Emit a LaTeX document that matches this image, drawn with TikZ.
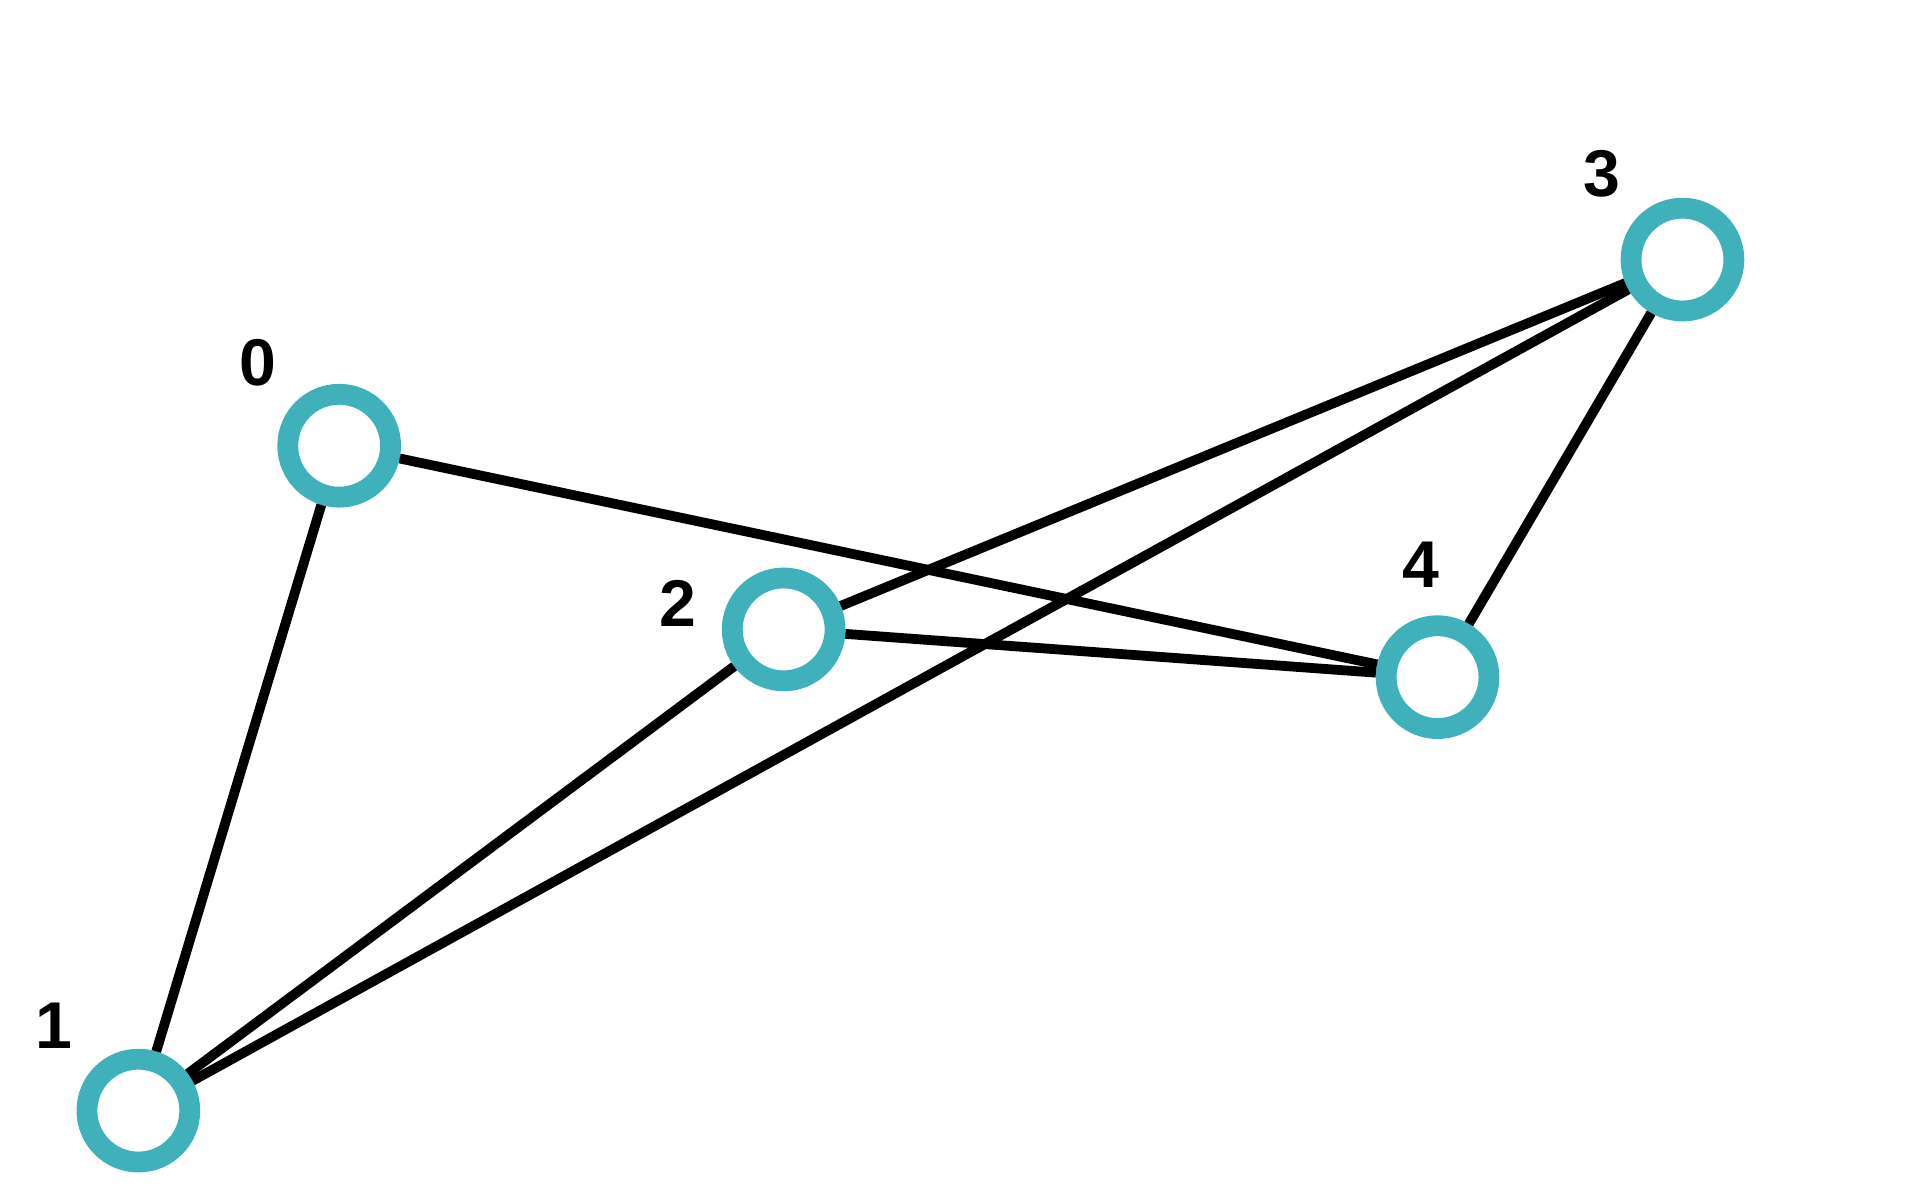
\documentclass[tikz,border=0pt]{standalone}
\usepackage{fontspec}
\setmainfont{Liberation Sans}
\begin{document}
\begin{tikzpicture}[x=1pt,y=-1pt,
  nd/.style={circle,draw={rgb,255:red,64;green,176;blue,186},line width=17pt,minimum size=84pt,inner sep=0pt,fill=white},
  ed/.style={line width=8pt,black},
  lb/.style={font=\fontsize{54}{60}\selectfont\bfseries,inner sep=0pt}]
\useasboundingbox (0,0) rectangle (1568,980);
\node[nd] (n0) at (277,364) {};
\node[nd] (n1) at (113,907) {};
\node[nd] (n2) at (640,514) {};
\node[nd] (n3) at (1374,212) {};
\node[nd] (n4) at (1174,553) {};
\draw[ed] (n0) -- (n1);
\draw[ed] (n0) -- (n4);
\draw[ed] (n1) -- (n2);
\draw[ed] (n1) -- (n3);
\draw[ed] (n2) -- (n3);
\draw[ed] (n2) -- (n4);
\draw[ed] (n3) -- (n4);
\node[lb] (l0) at (211,296) {0};
\node[lb] (l1) at (44,838) {1};
\node[lb] (l2) at (554,493) {2};
\node[lb] (l3) at (1308,142) {3};
\node[lb] (l4) at (1160,461) {4};
\end{tikzpicture}
\end{document}
